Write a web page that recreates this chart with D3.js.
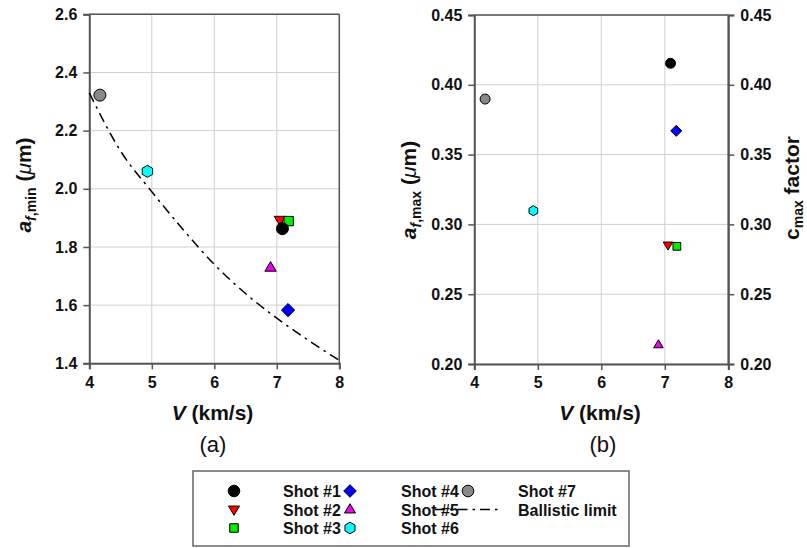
<!DOCTYPE html>
<html>
<head>
<meta charset="utf-8">
<script src="https://cdn.jsdelivr.net/npm/d3@7"></script>
<style>
  html, body { margin: 0; padding: 0; background: #fff; }
  svg { display: block; }
  text { font-family: "Liberation Sans", Arial, sans-serif; }
</style>
</head>
<body>
<svg id="chart" width="807" height="548"></svg>
<script>
// ---------------- data ----------------
const shots      = ["Shot #1", "Shot #2", "Shot #3", "Shot #4", "Shot #5", "Shot #6", "Shot #7"];
const velocity   = [7.09, 7.05, 7.19, 7.18, 6.90, 4.93, 4.17];
const aMin       = [1.863, 1.893, 1.889, 1.583, 1.729, 2.060, 2.322];
const aMax       = [0.4154, 0.2852, 0.2843, 0.3670, 0.2138, 0.3098, 0.3898];
const ballisticV = [4.0, 4.5, 5.0, 5.5, 6.0, 6.5, 7.0, 7.5, 8.0];
const ballisticA = [2.33, 2.13, 1.99, 1.86, 1.74, 1.64, 1.555, 1.48, 1.41];
const xTicks     = [4, 5, 6, 7, 8];
const yTicksA    = [1.4, 1.6, 1.8, 2.0, 2.2, 2.4, 2.6];
const yTicksB    = [0.20, 0.25, 0.30, 0.35, 0.40, 0.45];

// ---------------- styles ----------------
const shotShape = ["circle", "triDown", "square", "diamond", "triUp", "hexagon", "circle"];
const shotFill  = ["#000000", "#ff0000", "#00ee00", "#0000ff", "#ee00ee", "#00ffff", "#888888"];
const drawOrder = [3, 4, 5, 6, 1, 2, 0];

function symbolPath(shape, r) {
  const p = d3.path();
  if (shape === "circle") {
    p.moveTo(r, 0); p.arc(0, 0, r, 0, 2 * Math.PI);
  } else if (shape === "square") {
    const h = r * 0.82;
    p.rect(-h, -h, 2 * h, 2 * h);
  } else if (shape === "diamond") {
    p.moveTo(0, -r); p.lineTo(r, 0); p.lineTo(0, r); p.lineTo(-r, 0); p.closePath();
  } else if (shape === "triUp") {
    p.moveTo(0, -r); p.lineTo(r * 0.95, r * 0.6); p.lineTo(-r * 0.95, r * 0.6); p.closePath();
  } else if (shape === "triDown") {
    p.moveTo(0, r); p.lineTo(r * 0.95, -r * 0.6); p.lineTo(-r * 0.95, -r * 0.6); p.closePath();
  } else if (shape === "hexagon") {
    for (let i = 0; i < 6; i++) {
      const a = -Math.PI / 2 + i * Math.PI / 3;
      const x = r * Math.cos(a), y = r * Math.sin(a);
      if (i === 0) p.moveTo(x, y); else p.lineTo(x, y);
    }
    p.closePath();
  }
  return p.toString();
}

const svg = d3.select("#chart");
const axisCol = "#555";
const gridCol = "#cfcfcf";

function drawPanel(opts) {
  const { x, y, yTicks, yFmt, rightAxis, values, r, curve } = opts;
  const g = svg.append("g");
  const [x0, x1] = x.range();
  const [y0, y1] = y.range(); // y0 bottom, y1 top

  // grid
  g.append("g").selectAll("line.vg").data(xTicks).join("line")
    .attr("x1", d => x(d)).attr("x2", d => x(d)).attr("y1", y0).attr("y2", y1)
    .attr("stroke", gridCol).attr("stroke-width", 1);
  g.append("g").selectAll("line.hg").data(yTicks).join("line")
    .attr("x1", x0).attr("x2", x1).attr("y1", d => y(d)).attr("y2", d => y(d))
    .attr("stroke", gridCol).attr("stroke-width", 1);

  // frame (top / right)
  g.append("line").attr("x1", x0).attr("x2", x1).attr("y1", y1).attr("y2", y1)
    .attr("stroke", axisCol).attr("stroke-width", 1.5);
  g.append("line").attr("x1", x1).attr("x2", x1).attr("y1", y0).attr("y2", y1)
    .attr("stroke", axisCol).attr("stroke-width", 1.5);

  // axes
  const ax = g.append("g").attr("transform", `translate(0,${y0})`)
    .call(d3.axisBottom(x).tickValues(xTicks).tickFormat(d3.format("d")).tickSize(6).tickPadding(7));
  const ay = g.append("g").attr("transform", `translate(${x0},0)`)
    .call(d3.axisLeft(y).tickValues(yTicks).tickFormat(yFmt).tickSize(6).tickPadding(6));
  const axes = [ax, ay];
  if (rightAxis) {
    axes.push(g.append("g").attr("transform", `translate(${x1},0)`)
      .call(d3.axisRight(y).tickValues(yTicks).tickFormat(yFmt).tickSize(6).tickPadding(6)));
  }
  axes.forEach(a => {
    a.attr("font-family", '"Liberation Sans", Arial, sans-serif').attr("font-size", 16).attr("font-weight", "bold");
    a.select(".domain").attr("stroke", axisCol).attr("stroke-width", 2);
    a.selectAll(".tick line").attr("stroke", axisCol).attr("stroke-width", 1.5);
    a.selectAll(".tick text").attr("fill", "#111").style("font-weight", "bold");
  });

  // ballistic limit curve
  if (curve) {
    const line = d3.line().x(d => x(d[0])).y(d => y(d[1])).curve(d3.curveMonotoneX);
    g.append("path").datum(ballisticV.map((v, i) => [v, ballisticA[i]]))
      .attr("d", line).attr("fill", "none").attr("stroke", "#000")
      .attr("stroke-width", 1.5).attr("stroke-dasharray", "10,5,2.5,5");
  }

  // markers
  g.append("g").selectAll("path.m").data(drawOrder).join("path")
    .attr("transform", i => `translate(${x(velocity[i])},${y(values[i])})`)
    .attr("d", i => symbolPath(shotShape[i], r * (shotShape[i] === "square" ? 0.95 : 1) * (shotShape[i] === "diamond" ? 1.1 : 1)))
    .attr("fill", i => shotFill[i])
    .attr("stroke", "#000").attr("stroke-width", 1);
  return g;
}

// ---------------- panel (a) ----------------
const xA = d3.scaleLinear().domain([4, 8]).range([89.3, 339.3]);
const yA = d3.scaleLinear().domain([1.4, 2.6]).range([363.3, 14.3]);
drawPanel({ x: xA, y: yA, yTicks: yTicksA, yFmt: d3.format(".1f"), rightAxis: false, values: aMin, r: 6, curve: true });

// ---------------- panel (b) ----------------
const xB = d3.scaleLinear().domain([4, 8]).range([474.3, 728.3]);
const yB = d3.scaleLinear().domain([0.20, 0.45]).range([364, 15]);
drawPanel({ x: xB, y: yB, yTicks: yTicksB, yFmt: d3.format(".2f"), rightAxis: true, values: aMax, r: 5, curve: false });

// ---------------- axis titles ----------------
function xTitle(cx) {
  const t = svg.append("text").attr("x", cx).attr("y", 420).attr("text-anchor", "middle")
    .attr("font-size", 21).attr("font-weight", "bold").attr("fill", "#111");
  t.append("tspan").attr("font-style", "italic").text("V");
  t.append("tspan").text(" (km/s)");
}
xTitle(212.5);
xTitle(600);

function yTitle(bx, cy, sub) {
  const t = svg.append("text").attr("transform", `translate(${bx},${cy}) rotate(-90)`)
    .attr("text-anchor", "middle").attr("font-size", 21).attr("font-weight", "bold").attr("fill", "#111");
  t.append("tspan").attr("font-style", "italic").text("a");
  t.append("tspan").attr("font-style", "italic").attr("font-size", 14).attr("dy", 5).text("f");
  t.append("tspan").attr("font-size", 14).text("," + sub);
  t.append("tspan").attr("dy", -5).text(" (");
  t.append("tspan").attr("font-style", "italic").attr("font-weight", "normal").text("\u03bc");
  t.append("tspan").text("m)");
}
yTitle(31, 185, "min");
yTitle(416, 190, "max");

// right axis title
{
  const t = svg.append("text").attr("transform", `translate(799,188) rotate(-90)`)
    .attr("text-anchor", "middle").attr("font-size", 21).attr("font-weight", "bold").attr("fill", "#111");
  t.append("tspan").text("c");
  t.append("tspan").attr("font-size", 14).attr("dy", 4).text("max");
  t.append("tspan").attr("dy", -4).text(" factor");
}

// panel labels
svg.append("text").attr("x", 213).attr("y", 452).attr("text-anchor", "middle")
  .attr("font-size", 22).attr("fill", "#111").text("(a)");
svg.append("text").attr("x", 603).attr("y", 452).attr("text-anchor", "middle")
  .attr("font-size", 22).attr("fill", "#111").text("(b)");

// ---------------- legend ----------------
const lg = svg.append("g");
lg.append("rect").attr("x", 193).attr("y", 471).attr("width", 436).attr("height", 75)
  .attr("fill", "#fff").attr("stroke", "#666").attr("stroke-width", 1.5);

const rowY = [491, 509.5, 528];
const symCols = [234, 350, 468];
const textCols = [283, 401, 518];
const legendEntries = shots.map((s, i) => ({ name: s, i }));
legendEntries.forEach((e, k) => {
  const col = Math.floor(k / 3), row = k % 3;
  const rr = shotShape[e.i] === "square" ? 5.2 : (shotShape[e.i] === "diamond" ? 6.3 : 5.8);
  lg.append("path").attr("transform", `translate(${symCols[col]},${rowY[row]})`)
    .attr("d", symbolPath(shotShape[e.i], rr))
    .attr("fill", shotFill[e.i]).attr("stroke", "#000").attr("stroke-width", 1);
  lg.append("text").attr("x", textCols[col]).attr("y", rowY[row] + 6)
    .attr("font-size", 16).attr("font-weight", "bold").attr("fill", "#111").text(e.name);
});
// ballistic limit entry
lg.append("line").attr("x1", 435).attr("x2", 499).attr("y1", rowY[1]).attr("y2", rowY[1])
  .attr("stroke", "#000").attr("stroke-width", 1.5).attr("stroke-dasharray", "10,5,2.5,5");
lg.append("text").attr("x", textCols[2]).attr("y", rowY[1] + 6)
  .attr("font-size", 16).attr("font-weight", "bold").attr("fill", "#111").text("Ballistic limit");
</script>
</body>
</html>
